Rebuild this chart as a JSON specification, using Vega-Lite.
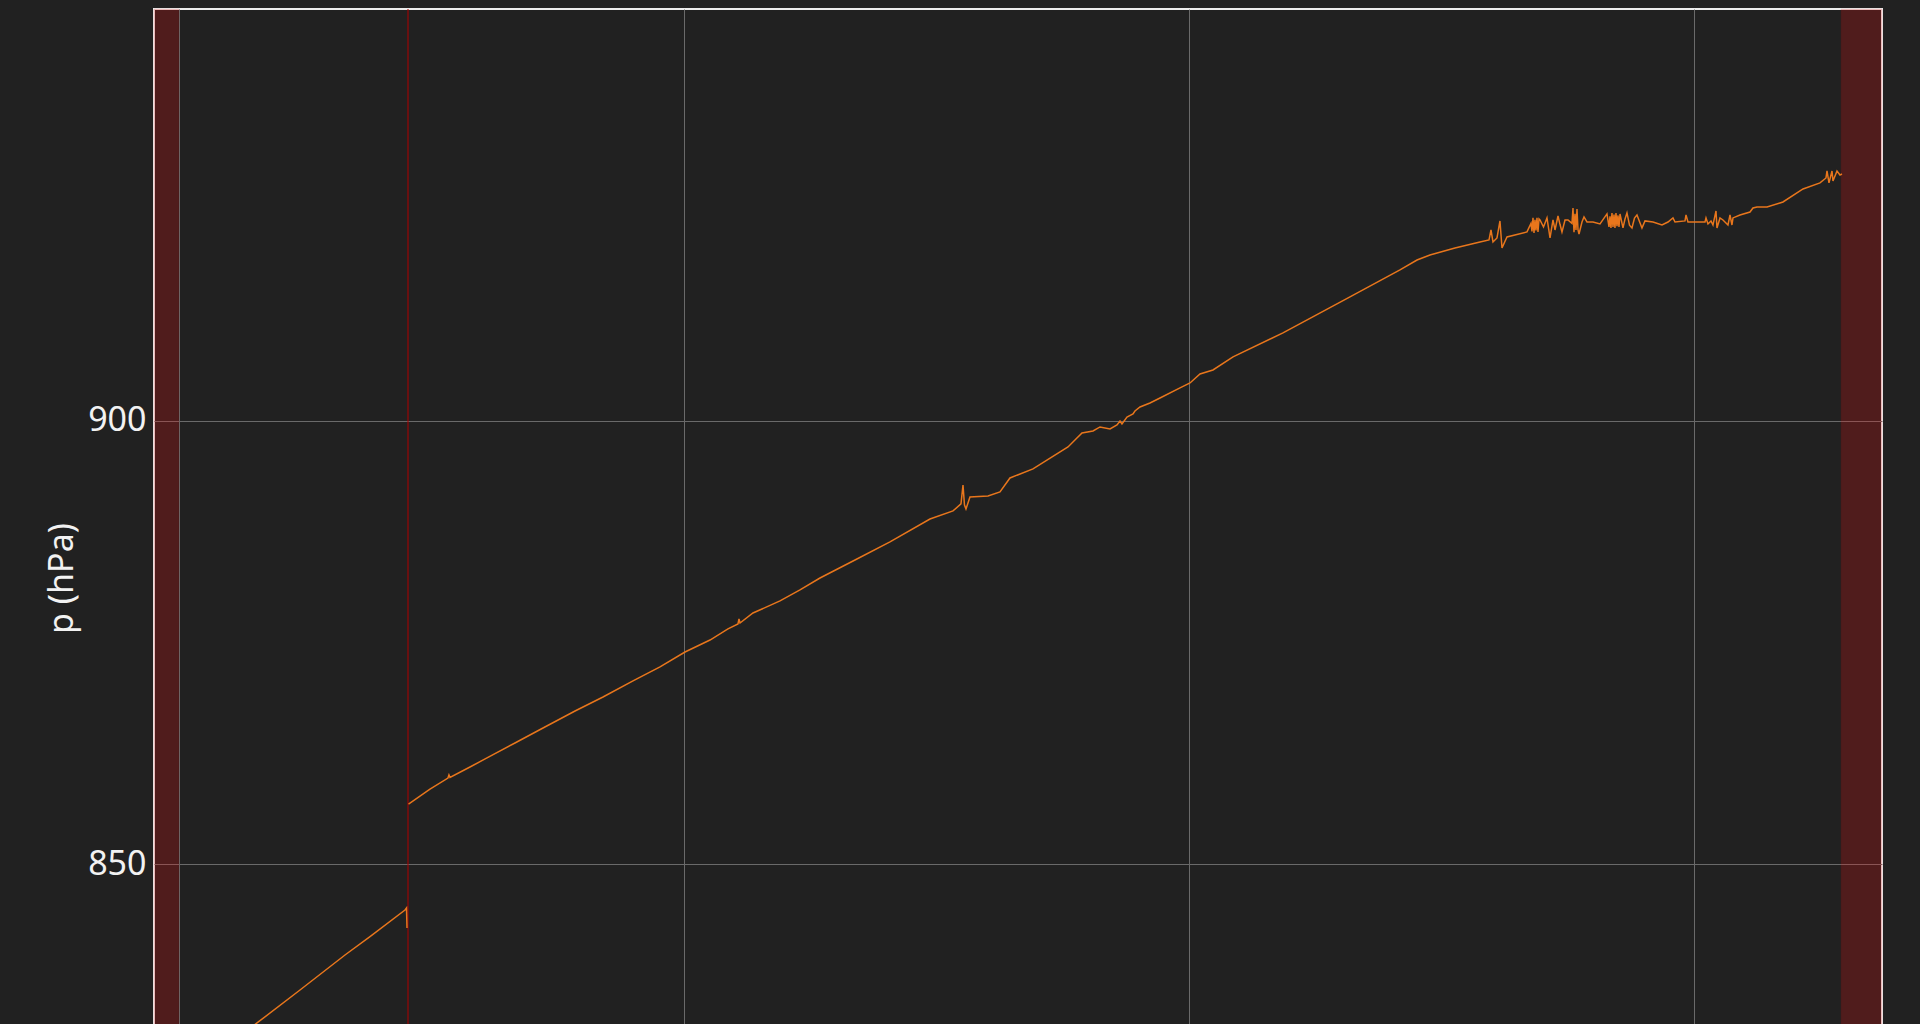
{
  "$schema": "https://vega.github.io/schema/vega-lite/v6.json",
  "autosize": "none",
  "width": 1728,
  "height": 1138,
  "padding": {"left": 154, "top": 9, "right": 38, "bottom": 0},
  "background": "#212121",
  "config": {
    "view": {"stroke": "#ececec", "strokeWidth": 2},
    "font": "Noto Sans"
  },
  "datasets": {
    "bands": [
      {"start": -49.5, "end": 0},
      {"start": 3291.1, "end": 3372.3}
    ],
    "marker": [
      {"t": 453.5}
    ],
    "pressure": [
      {"seg": "a", "t": 11.9, "p": 825.85},
      {"seg": "a", "t": 81.2, "p": 828.9},
      {"seg": "a", "t": 154.5, "p": 832.06},
      {"seg": "a", "t": 239.6, "p": 835.78},
      {"seg": "a", "t": 328.7, "p": 839.73},
      {"seg": "a", "t": 378.2, "p": 841.8},
      {"seg": "a", "t": 447.5, "p": 844.81},
      {"seg": "a", "t": 450.5, "p": 845.04},
      {"seg": "a", "t": 451.5, "p": 842.78},
      {"seg": "b", "t": 454.5, "p": 856.77},
      {"seg": "b", "t": 497.0, "p": 858.45},
      {"seg": "b", "t": 532.6, "p": 859.7},
      {"seg": "b", "t": 534.6, "p": 860.05},
      {"seg": "b", "t": 536.6, "p": 859.78},
      {"seg": "b", "t": 576.2, "p": 860.95},
      {"seg": "b", "t": 609.9, "p": 861.97},
      {"seg": "b", "t": 665.3, "p": 863.66},
      {"seg": "b", "t": 720.8, "p": 865.35},
      {"seg": "b", "t": 784.2, "p": 867.27},
      {"seg": "b", "t": 839.6, "p": 868.85},
      {"seg": "b", "t": 899.0, "p": 870.66},
      {"seg": "b", "t": 952.5, "p": 872.24},
      {"seg": "b", "t": 1002.0, "p": 873.93},
      {"seg": "b", "t": 1051.5, "p": 875.28},
      {"seg": "b", "t": 1087.1, "p": 876.53},
      {"seg": "b", "t": 1106.9, "p": 877.1},
      {"seg": "b", "t": 1108.9, "p": 877.66},
      {"seg": "b", "t": 1110.9, "p": 877.2},
      {"seg": "b", "t": 1136.6, "p": 878.33},
      {"seg": "b", "t": 1190.1, "p": 879.69},
      {"seg": "b", "t": 1229.7, "p": 880.93},
      {"seg": "b", "t": 1269.3, "p": 882.28},
      {"seg": "b", "t": 1338.6, "p": 884.31},
      {"seg": "b", "t": 1407.9, "p": 886.35},
      {"seg": "b", "t": 1487.1, "p": 888.94},
      {"seg": "b", "t": 1532.7, "p": 889.85},
      {"seg": "b", "t": 1548.5, "p": 890.64},
      {"seg": "b", "t": 1552.5, "p": 892.78},
      {"seg": "b", "t": 1555.4, "p": 890.52},
      {"seg": "b", "t": 1558.4, "p": 890.07},
      {"seg": "b", "t": 1566.3, "p": 891.43},
      {"seg": "b", "t": 1602.0, "p": 891.54},
      {"seg": "b", "t": 1625.7, "p": 891.99},
      {"seg": "b", "t": 1645.5, "p": 893.57},
      {"seg": "b", "t": 1691.1, "p": 894.59},
      {"seg": "b", "t": 1760.4, "p": 897.07},
      {"seg": "b", "t": 1788.1, "p": 898.65},
      {"seg": "b", "t": 1809.9, "p": 898.87},
      {"seg": "b", "t": 1823.8, "p": 899.33},
      {"seg": "b", "t": 1843.6, "p": 899.1},
      {"seg": "b", "t": 1857.4, "p": 899.55},
      {"seg": "b", "t": 1863.4, "p": 900.0},
      {"seg": "b", "t": 1867.3, "p": 899.66},
      {"seg": "b", "t": 1877.2, "p": 900.45},
      {"seg": "b", "t": 1889.1, "p": 900.79},
      {"seg": "b", "t": 1893.0, "p": 901.13},
      {"seg": "b", "t": 1903.0, "p": 901.58},
      {"seg": "b", "t": 1922.8, "p": 902.03},
      {"seg": "b", "t": 1942.6, "p": 902.6},
      {"seg": "b", "t": 1982.2, "p": 903.73},
      {"seg": "b", "t": 2002.0, "p": 904.29},
      {"seg": "b", "t": 2021.8, "p": 905.31},
      {"seg": "b", "t": 2047.5, "p": 905.76},
      {"seg": "b", "t": 2087.2, "p": 907.23},
      {"seg": "b", "t": 2186.1, "p": 909.94},
      {"seg": "b", "t": 2318.8, "p": 914.0},
      {"seg": "b", "t": 2417.8, "p": 917.05},
      {"seg": "b", "t": 2451.5, "p": 918.17},
      {"seg": "b", "t": 2477.2, "p": 918.74},
      {"seg": "b", "t": 2526.7, "p": 919.53},
      {"seg": "b", "t": 2576.2, "p": 920.21},
      {"seg": "b", "t": 2594.1, "p": 920.43},
      {"seg": "b", "t": 2598.0, "p": 921.56},
      {"seg": "b", "t": 2602.0, "p": 920.21},
      {"seg": "b", "t": 2609.9, "p": 920.66},
      {"seg": "b", "t": 2615.8, "p": 922.58},
      {"seg": "b", "t": 2619.8, "p": 919.53},
      {"seg": "b", "t": 2629.7, "p": 920.77},
      {"seg": "b", "t": 2669.3, "p": 921.34},
      {"seg": "b", "t": 2677.2, "p": 922.3},
      {"seg": "b", "t": 2679.2, "p": 921.4},
      {"seg": "b", "t": 2681.2, "p": 922.92},
      {"seg": "b", "t": 2683.2, "p": 921.22},
      {"seg": "b", "t": 2685.1, "p": 922.7},
      {"seg": "b", "t": 2687.1, "p": 921.5},
      {"seg": "b", "t": 2689.1, "p": 922.92},
      {"seg": "b", "t": 2691.1, "p": 921.34},
      {"seg": "b", "t": 2693.1, "p": 922.8},
      {"seg": "b", "t": 2695.1, "p": 922.69},
      {"seg": "b", "t": 2702.0, "p": 921.9},
      {"seg": "b", "t": 2708.9, "p": 922.92},
      {"seg": "b", "t": 2714.9, "p": 920.66},
      {"seg": "b", "t": 2720.8, "p": 922.69},
      {"seg": "b", "t": 2724.8, "p": 921.56},
      {"seg": "b", "t": 2730.7, "p": 923.14},
      {"seg": "b", "t": 2734.6, "p": 922.2},
      {"seg": "b", "t": 2738.6, "p": 921.34},
      {"seg": "b", "t": 2744.6, "p": 922.69},
      {"seg": "b", "t": 2750.5, "p": 922.69},
      {"seg": "b", "t": 2758.4, "p": 922.3},
      {"seg": "b", "t": 2760.4, "p": 924.04},
      {"seg": "b", "t": 2762.4, "p": 921.3},
      {"seg": "b", "t": 2764.4, "p": 923.4},
      {"seg": "b", "t": 2766.3, "p": 921.56},
      {"seg": "b", "t": 2768.3, "p": 923.93},
      {"seg": "b", "t": 2770.3, "p": 921.6},
      {"seg": "b", "t": 2772.3, "p": 921.11},
      {"seg": "b", "t": 2778.2, "p": 922.46},
      {"seg": "b", "t": 2782.2, "p": 923.03},
      {"seg": "b", "t": 2788.1, "p": 922.46},
      {"seg": "b", "t": 2800.0, "p": 922.46},
      {"seg": "b", "t": 2813.9, "p": 922.24},
      {"seg": "b", "t": 2827.7, "p": 923.37},
      {"seg": "b", "t": 2831.7, "p": 921.9},
      {"seg": "b", "t": 2833.7, "p": 923.1},
      {"seg": "b", "t": 2835.6, "p": 921.8},
      {"seg": "b", "t": 2837.6, "p": 923.48},
      {"seg": "b", "t": 2839.6, "p": 921.9},
      {"seg": "b", "t": 2841.6, "p": 923.3},
      {"seg": "b", "t": 2843.5, "p": 921.79},
      {"seg": "b", "t": 2845.5, "p": 923.48},
      {"seg": "b", "t": 2847.5, "p": 922.0},
      {"seg": "b", "t": 2849.5, "p": 923.2},
      {"seg": "b", "t": 2851.5, "p": 921.9},
      {"seg": "b", "t": 2853.5, "p": 923.37},
      {"seg": "b", "t": 2859.4, "p": 921.79},
      {"seg": "b", "t": 2863.4, "p": 922.8},
      {"seg": "b", "t": 2867.3, "p": 923.48},
      {"seg": "b", "t": 2872.3, "p": 922.1},
      {"seg": "b", "t": 2877.2, "p": 921.79},
      {"seg": "b", "t": 2882.2, "p": 922.9},
      {"seg": "b", "t": 2887.1, "p": 923.25},
      {"seg": "b", "t": 2897.0, "p": 921.79},
      {"seg": "b", "t": 2903.0, "p": 922.58},
      {"seg": "b", "t": 2918.8, "p": 922.46},
      {"seg": "b", "t": 2936.6, "p": 922.12},
      {"seg": "b", "t": 2948.5, "p": 922.46},
      {"seg": "b", "t": 2958.4, "p": 922.92},
      {"seg": "b", "t": 2962.4, "p": 922.46},
      {"seg": "b", "t": 2982.2, "p": 922.58},
      {"seg": "b", "t": 2984.2, "p": 923.25},
      {"seg": "b", "t": 2988.1, "p": 922.46},
      {"seg": "b", "t": 3021.8, "p": 922.46},
      {"seg": "b", "t": 3023.8, "p": 922.92},
      {"seg": "b", "t": 3027.7, "p": 922.24},
      {"seg": "b", "t": 3033.7, "p": 922.58},
      {"seg": "b", "t": 3037.6, "p": 922.12},
      {"seg": "b", "t": 3043.6, "p": 923.71},
      {"seg": "b", "t": 3045.5, "p": 921.79},
      {"seg": "b", "t": 3051.5, "p": 922.92},
      {"seg": "b", "t": 3057.4, "p": 922.69},
      {"seg": "b", "t": 3067.3, "p": 922.12},
      {"seg": "b", "t": 3071.3, "p": 923.25},
      {"seg": "b", "t": 3075.2, "p": 922.12},
      {"seg": "b", "t": 3077.2, "p": 922.92},
      {"seg": "b", "t": 3091.1, "p": 923.25},
      {"seg": "b", "t": 3110.9, "p": 923.59},
      {"seg": "b", "t": 3116.8, "p": 924.04},
      {"seg": "b", "t": 3124.8, "p": 924.16},
      {"seg": "b", "t": 3144.6, "p": 924.16},
      {"seg": "b", "t": 3170.3, "p": 924.61},
      {"seg": "b", "t": 3176.2, "p": 924.72},
      {"seg": "b", "t": 3215.9, "p": 926.19},
      {"seg": "b", "t": 3249.5, "p": 926.87},
      {"seg": "b", "t": 3261.4, "p": 927.43},
      {"seg": "b", "t": 3263.4, "p": 928.22},
      {"seg": "b", "t": 3267.3, "p": 926.87},
      {"seg": "b", "t": 3273.3, "p": 928.22},
      {"seg": "b", "t": 3275.2, "p": 927.09},
      {"seg": "b", "t": 3283.2, "p": 928.22},
      {"seg": "b", "t": 3289.1, "p": 927.77},
      {"seg": "b", "t": 3293.1, "p": 927.88}
    ]
  },
  "layer": [
    {
      "data": {"name": "bands"},
      "mark": {"type": "rect", "color": "#ff0a0a", "opacity": 0.21, "stroke": "#c00000", "strokeWidth": 1, "strokeOpacity": 0.5},
      "encoding": {
        "x": {"field": "start", "type": "quantitative"},
        "x2": {"field": "end"}
      }
    },
    {
      "data": {"name": "marker"},
      "mark": {"type": "rule", "color": "#b00000", "strokeWidth": 1},
      "encoding": {
        "x": {"field": "t", "type": "quantitative"}
      }
    },
    {
      "data": {"name": "pressure"},
      "mark": {"type": "line", "color": "#e8761c", "strokeWidth": 1.5, "clip": true},
      "encoding": {
        "x": {"field": "t", "type": "quantitative"},
        "y": {"field": "p", "type": "quantitative"},
        "detail": {"field": "seg"}
      }
    }
  ],
  "resolve": {"scale": {"x": "shared", "y": "shared"}},
  "encoding": {
    "x": {
      "type": "quantitative",
      "scale": {"domain": [-49.5, 3372.3], "nice": false, "zero": false},
      "axis": {
        "values": [0, 1000, 2000, 3000],
        "grid": true,
        "gridColor": "#6a6a6a",
        "gridWidth": 1,
        "labels": false,
        "ticks": false,
        "domain": false,
        "title": null
      }
    },
    "y": {
      "type": "quantitative",
      "scale": {"domain": [818.06, 946.5], "nice": false, "zero": false},
      "axis": {
        "values": [850, 900],
        "grid": true,
        "gridColor": "#6a6a6a",
        "gridWidth": 1,
        "ticks": false,
        "domain": false,
        "labelPadding": 8,
        "labelFont": "Noto Sans",
        "labelFontSize": 34,
        "labelColor": "#f2f2f2",
        "title": "p (hPa)",
        "titleFont": "Noto Sans",
        "titleFontSize": 34,
        "titleFontWeight": "normal",
        "titleColor": "#f2f2f2",
        "titleAngle": 270,
        "titleAlign": "center",
        "titleBaseline": "alphabetic",
        "titleX": -82,
        "titleY": 569
      }
    }
  }
}
